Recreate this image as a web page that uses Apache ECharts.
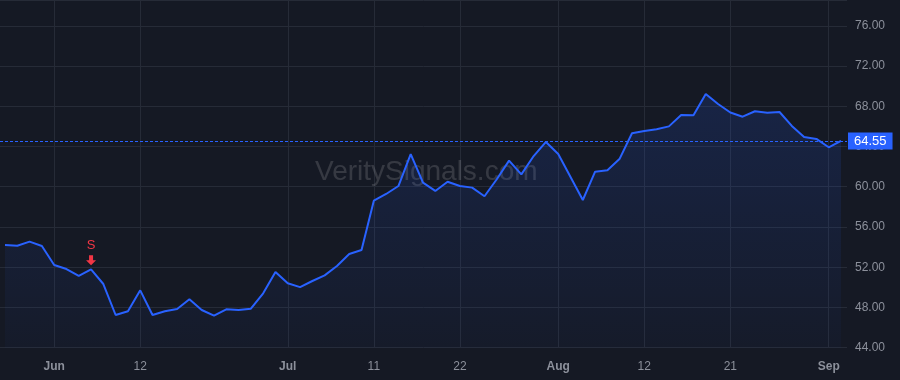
<!DOCTYPE html>
<html>
<head>
<meta charset="utf-8">
<script src="https://cdn.jsdelivr.net/npm/echarts@6/dist/echarts.min.js"></script>
<style>
  html, body { margin: 0; padding: 0; background: #151924; }
  #chart { width: 900px; height: 380px; }
</style>
</head>
<body>
<div id="chart"></div>
<script>
  // trading days, May 28 - Sep 4 2024
  const dates = [
    '2024-05-28', '2024-05-29', '2024-05-30', '2024-05-31',
    '2024-06-03', '2024-06-04', '2024-06-05', '2024-06-06', '2024-06-07', '2024-06-10',
    '2024-06-11', '2024-06-12', '2024-06-13', '2024-06-14', '2024-06-17', '2024-06-18',
    '2024-06-20', '2024-06-21', '2024-06-24', '2024-06-25', '2024-06-26', '2024-06-27', '2024-06-28',
    '2024-07-01', '2024-07-02', '2024-07-03', '2024-07-05', '2024-07-08', '2024-07-09',
    '2024-07-10', '2024-07-11', '2024-07-12', '2024-07-15', '2024-07-16', '2024-07-17',
    '2024-07-18', '2024-07-19', '2024-07-22', '2024-07-23', '2024-07-24', '2024-07-25',
    '2024-07-26', '2024-07-29', '2024-07-30', '2024-07-31',
    '2024-08-01', '2024-08-02', '2024-08-05', '2024-08-06', '2024-08-07', '2024-08-08',
    '2024-08-09', '2024-08-12', '2024-08-13', '2024-08-14', '2024-08-15', '2024-08-16',
    '2024-08-19', '2024-08-20', '2024-08-21', '2024-08-22', '2024-08-23', '2024-08-26',
    '2024-08-27', '2024-08-28', '2024-08-29', '2024-08-30',
    '2024-09-03', '2024-09-04'
  ]
  const prices = [
    54.21, 54.14, 54.54, 54.11,
    52.22, 51.82, 51.13, 51.79, 50.33, 47.25,
    47.62, 49.70, 47.25, 47.62, 47.85, 48.81,
    47.75, 47.18, 47.81, 47.75, 47.88, 49.41, 51.52,
    50.40, 50.02, 50.63, 51.19, 52.12, 53.31,
    53.71, 58.61, 59.28, 60.07, 63.25, 60.40,
    59.58, 60.50, 60.07, 59.91, 59.05, 60.74,
    62.59, 61.23, 63.05, 64.45,
    63.25, 60.97, 58.68, 61.50, 61.63, 62.79,
    65.31, 65.54, 65.71, 66.00, 67.13, 67.10,
    69.22, 68.22, 67.38, 66.96, 67.50, 67.36,
    67.43, 66.04, 64.94, 64.75,
    63.92, 64.55
  ]
  const tickDates = ['2024-06-03', '2024-06-12', '2024-07-01', '2024-07-11', '2024-07-22',
    '2024-08-01', '2024-08-12', '2024-08-21', '2024-09-03']
  const tickLabels = ['Jun', '12', 'Jul', '11', '22', 'Aug', '12', '21', 'Sep']
  const monthLabels = ['Jun', 'Jul', 'Aug', 'Sep']
  const signalDate = '2024-06-06'
  const signalText = 'S'
  const lastPrice = 64.55

  const colors = {
    bg: '#151924',
    grid: '#262b37',
    line: '#2962ff',
    text: '#8c909b',
    red: '#f23645'
  }
  const font = 'Liberation Sans'
  const yMin = 44
  const yMax = 78.56

  const signalIdx = dates.indexOf(signalDate)
  const isTick = (idx) => tickDates.indexOf(dates[idx]) >= 0

  const chart = echarts.init(document.getElementById('chart'))
  chart.setOption({
    backgroundColor: colors.bg,
    animation: false,
    graphic: [{
      type: 'text',
      left: 315,
      top: 158,
      z: 1,
      style: {
        text: 'VeritySignals.com',
        font: '28px "Liberation Sans"',
        fill: 'rgba(255,255,255,0.14)'
      }
    }],
    grid: [
      { left: 5, right: 59, top: 0, bottom: 32.3 },
      { left: 0, right: 53, top: 0, bottom: 32.3 }
    ],
    xAxis: [{
      type: 'category',
      gridIndex: 0,
      boundaryGap: false,
      data: dates,
      axisLine: { show: false },
      axisTick: { show: false },
      axisLabel: {
        interval: (idx) => isTick(idx),
        margin: 13,
        fontFamily: font,
        fontSize: 12,
        color: colors.text,
        formatter: (v) => {
          const lbl = tickLabels[tickDates.indexOf(v)]
          return monthLabels.indexOf(lbl) >= 0 ? '{m|' + lbl + '}' : lbl
        },
        rich: { m: { fontWeight: 'bold', fontFamily: font, fontSize: 12, color: colors.text } }
      },
      splitLine: {
        show: true,
        interval: (idx) => isTick(idx),
        lineStyle: { color: colors.grid, width: 1 }
      }
    }, {
      type: 'value',
      gridIndex: 1,
      min: 0,
      max: 1,
      show: false
    }],
    yAxis: [{
      type: 'value',
      gridIndex: 0,
      min: yMin,
      max: yMax,
      interval: 4,
      show: false,
      splitLine: { show: false }
    }, {
      type: 'value',
      gridIndex: 1,
      position: 'right',
      min: yMin,
      max: yMax,
      interval: 4,
      axisLine: { show: false },
      axisTick: { show: false },
      axisLabel: {
        margin: 8,
        showMaxLabel: false,
        fontFamily: font,
        fontSize: 12,
        color: colors.text,
        formatter: (v) => (v % 4 === 0 ? v.toFixed(2) : '')
      },
      splitLine: { lineStyle: { color: colors.grid, width: 1 } }
    }],
    series: [{
      type: 'line',
      xAxisIndex: 0,
      yAxisIndex: 0,
      data: prices,
      symbol: 'none',
      z: 3,
      lineStyle: { color: colors.line, width: 2 },
      areaStyle: {
        color: new echarts.graphic.LinearGradient(0, 0, 0, 1, [
          { offset: 0, color: 'rgba(41,98,255,0.22)' },
          { offset: 1, color: 'rgba(41,98,255,0.04)' }
        ])
      },
      markPoint: {
        silent: true,
        data: [{
          coord: [signalIdx, prices[signalIdx]],
          symbol: 'path://M3,0 L7,0 L7,5 L10,5 L5,10 L0,5 L3,5 Z',
          symbolSize: [10, 10],
          symbolOffset: [0, -9],
          itemStyle: { color: colors.red },
          label: {
            show: true,
            position: 'top',
            distance: 3,
            formatter: signalText,
            color: colors.red,
            fontFamily: font,
            fontSize: 13
          }
        }]
      }
    }, {
      type: 'line',
      xAxisIndex: 1,
      yAxisIndex: 1,
      data: [],
      z: 5,
      markLine: {
        silent: true,
        symbol: 'none',
        lineStyle: { color: colors.line, type: [3, 2], width: 1 },
        label: {
          show: true,
          position: 'end',
          distance: 1,
          formatter: lastPrice.toFixed(2),
          backgroundColor: colors.line,
          color: '#ffffff',
          fontFamily: font,
          fontSize: 13,
          padding: [2, 6, 2, 6]
        },
        data: [{ yAxis: lastPrice }]
      }
    }]
  })
</script>
</body>
</html>
